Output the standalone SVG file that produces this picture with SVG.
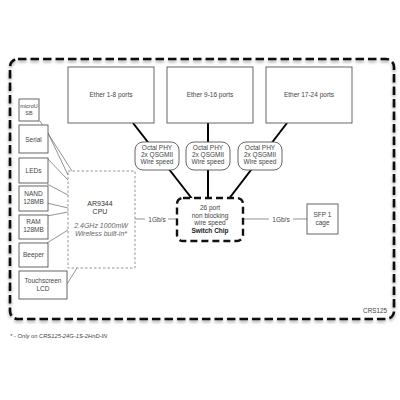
<svg xmlns="http://www.w3.org/2000/svg" width="400" height="400" viewBox="0 0 400 400">
<style>
text{font-family:"Liberation Sans",Arial,sans-serif;fill:#444;font-size:6.5px;text-anchor:middle}
.box{fill:#fff;stroke:#555;stroke-width:0.9}
.phy{fill:#fff;stroke:#555;stroke-width:0.9}
.thick{stroke:#000;stroke-width:2;fill:none}
.thin{stroke:#666;stroke-width:0.7;fill:none}
.it{font-style:italic}
</style>
<defs>
<filter id="sh" x="-5%" y="-5%" width="110%" height="115%">
<feGaussianBlur in="SourceAlpha" stdDeviation="1.5"/>
<feOffset dx="0" dy="2" result="b"/>
<feComponentTransfer><feFuncA type="linear" slope="0.35"/></feComponentTransfer>
<feMerge><feMergeNode/><feMergeNode in="SourceGraphic"/></feMerge>
</filter>
</defs>
<rect width="400" height="400" fill="#fff"/>
<g id="board">
<rect x="10" y="59" width="384" height="260" rx="8" fill="none" stroke="#111" stroke-width="2.6" stroke-dasharray="8.5,4" filter="url(#sh)"/>
<text x="375" y="313" style="font-size:6.3px">CRS125</text>
</g>
<g id="connectors">
<line class="thick" x1="133" y1="123" x2="193" y2="200"/>
<line class="thick" x1="208" y1="123" x2="208" y2="200"/>
<line class="thick" x1="287" y1="123" x2="228" y2="200"/>
<line class="thin" x1="40" y1="121" x2="72" y2="171"/>
<line class="thin" x1="48" y1="133" x2="68" y2="175"/>
<line class="thin" x1="47" y1="158" x2="68" y2="180"/>
<line class="thin" x1="47" y1="184" x2="68" y2="195"/>
<line class="thin" x1="47" y1="203" x2="68" y2="208"/>
<line class="thin" x1="47" y1="216" x2="68" y2="212"/>
<line class="thin" x1="47" y1="243" x2="68" y2="230"/>
<line class="thin" x1="67" y1="284" x2="77" y2="268"/>
<line class="thin" x1="135" y1="219" x2="145" y2="219"/>
<line class="thin" x1="168" y1="219" x2="177" y2="219"/>
<text x="157" y="221.5">1Gb/s</text>
<line class="thin" x1="243" y1="219" x2="269" y2="219"/>
<line class="thin" x1="293" y1="219" x2="307" y2="219"/>
<text x="281" y="221.5">1Gb/s</text>
</g>
<g id="ether1">
<rect class="box" x="68" y="67" width="86" height="56"/>
<text x="111" y="97">Ether 1-8 ports</text>
</g>
<g id="ether2">
<rect class="box" x="167" y="67" width="86" height="56"/>
<text x="210" y="97">Ether 9-16 ports</text>
</g>
<g id="ether3">
<rect class="box" x="266" y="67" width="86" height="56"/>
<text x="309" y="97">Ether 17-24 ports</text>
</g>
<g id="phy1">
<rect class="phy" x="135" y="142" width="44" height="28" rx="8"/>
<text x="157" y="149.5">Octal PHY</text>
<text x="157" y="156.5">2x QSGMII</text>
<text x="157" y="164">Wire speed</text>
</g>
<g id="phy2">
<rect class="phy" x="186" y="142" width="44" height="28" rx="8"/>
<text x="208" y="149.5">Octal PHY</text>
<text x="208" y="156.5">2x QSGMII</text>
<text x="208" y="164">Wire speed</text>
</g>
<g id="phy3">
<rect class="phy" x="238" y="142" width="44" height="28" rx="8"/>
<text x="260" y="149.5">Octal PHY</text>
<text x="260" y="156.5">2x QSGMII</text>
<text x="260" y="164">Wire speed</text>
</g>
<g id="switch">
<rect x="177" y="198" width="66" height="43" rx="6" fill="#fff" stroke="#111" stroke-width="2.4" stroke-dasharray="7,4"/>
<text x="210" y="210">26 port</text>
<text x="210" y="217.5">non blocking</text>
<text x="210" y="225">wire speed</text>
<text x="210" y="232.5" style="font-weight:bold;fill:#222">Switch Chip</text>
</g>
<g id="sfp">
<rect class="box" x="307" y="204" width="31" height="30"/>
<text x="322.5" y="217">SFP 1</text>
<text x="322.5" y="225">cage</text>
</g>
<g id="cpu">
<rect x="68" y="171" width="67" height="97" fill="#fff" stroke="#888" stroke-width="0.9" stroke-dasharray="2.5,2"/>
<text x="100" y="206" style="font-size:7px;fill:#333">AR9344</text>
<text x="100" y="214" style="font-size:7px;fill:#333">CPU</text>
<text class="it" x="101" y="228" style="font-size:7px;fill:#666">2.4GHz 1000mW</text>
<text class="it" x="101" y="236" style="font-size:7px;fill:#666">Wireless built-in*</text>
</g>
<g id="microusb">
<rect class="box" x="19" y="99" width="20" height="22"/>
<text x="29" y="107.5" style="font-size:5.5px">microU</text>
<text x="29" y="115" style="font-size:5.5px">SB</text>
</g>
<g id="serial">
<rect class="box" x="19" y="125" width="29" height="28"/>
<text x="33.5" y="141.5">Serial</text>
</g>
<g id="leds">
<rect class="box" x="19" y="158" width="29" height="25"/>
<text x="33.5" y="172.5">LEDs</text>
</g>
<g id="nand">
<rect class="box" x="19" y="186" width="29" height="25"/>
<text x="33.5" y="196">NAND</text>
<text x="33.5" y="204">128MB</text>
</g>
<g id="ram">
<rect class="box" x="19" y="215" width="29" height="24"/>
<text x="33.5" y="224">RAM</text>
<text x="33.5" y="231.5">128MB</text>
</g>
<g id="beeper">
<rect class="box" x="19" y="243" width="29" height="24"/>
<text x="33.5" y="256.5">Beeper</text>
</g>
<g id="lcd">
<rect class="box" x="19" y="271" width="48" height="28"/>
<text x="43" y="283">Touchscreen</text>
<text x="43" y="291">LCD</text>
</g>
<text class="it" x="10" y="338" style="text-anchor:start;font-size:5.8px">* - Only on CRS125-24G-1S-2HnD-IN</text>
</svg>
